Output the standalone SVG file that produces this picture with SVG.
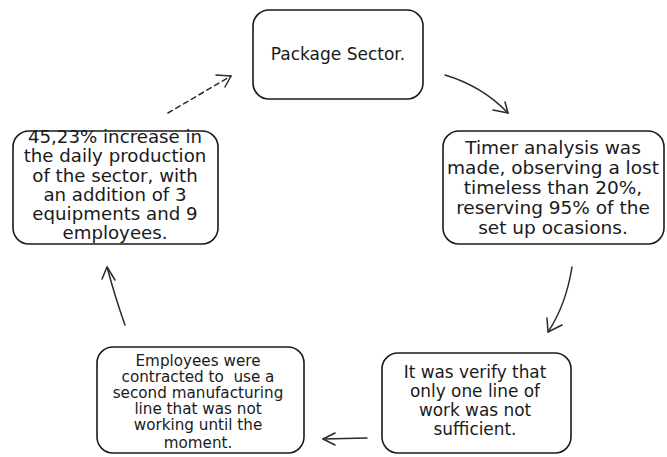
<svg xmlns="http://www.w3.org/2000/svg" width="667" height="457" viewBox="0 0 667 457">
<defs>
<style>
.box{fill:#fff;stroke:#1a1a1a;stroke-width:1.6}
.t{font-family:"DejaVu Sans","Open Sans",sans-serif;fill:#1a1a1a;text-anchor:middle}
.c{fill:none;stroke:#2a2a2a;stroke-width:1.5;stroke-linecap:round;stroke-linejoin:round}
.d{stroke-dasharray:5,4}
</style>
</defs>
<rect width="667" height="457" fill="#fff"/>
<g id="connectors">
<path class="c" d="M445,75 Q482,86 508,113"/>
<path class="c" d="M493,110 L508,113 L505,102"/>
<path class="c" d="M572,267 Q566,305 548,332"/>
<path class="c" d="M547,318 L548,332 L562,325"/>
<path class="c" d="M367,438 L323,439"/>
<path class="c" d="M335,433 L323,439 L335,445"/>
<path class="c" d="M125,325 Q116,300 107,267"/>
<path class="c" d="M102,279 L107,267 L115,280"/>
<path class="c d" d="M168,113 L231,76"/>
<path class="c" d="M216,75 L231,76 L225,87"/>
</g>
<g id="node-package">
<rect class="box" x="253" y="10" width="170" height="89" rx="16"/>
<text class="t" x="338" y="60" font-size="17">Package Sector.</text>
</g>
<g id="node-timer">
<rect class="box" x="443" y="131" width="221" height="113" rx="16"/>
<text class="t" font-size="18.5"><tspan x="553" y="154">Timer analysis was</tspan><tspan x="553" y="174">made, observing a lost</tspan><tspan x="553" y="194">timeless than 20%,</tspan><tspan x="553" y="214">reserving 95% of the</tspan><tspan x="553" y="234">set up ocasions.</tspan></text>
</g>
<g id="node-verify">
<rect class="box" x="382" y="353" width="189" height="100" rx="16"/>
<text class="t" font-size="16.9"><tspan x="475" y="378">It was verify that</tspan><tspan x="475" y="397">only one line of</tspan><tspan x="475" y="416">work was not</tspan><tspan x="475" y="435">sufficient.</tspan></text>
</g>
<g id="node-employees">
<rect class="box" x="97" y="347" width="207" height="106" rx="16"/>
<text class="t" font-size="15.2"><tspan x="198" y="366">Employees were</tspan><tspan x="198" y="382" style="white-space:pre">contracted to  use a</tspan><tspan x="198" y="398">second manufacturing</tspan><tspan x="198" y="414">line that was not</tspan><tspan x="198" y="430">working until the</tspan><tspan x="198" y="448">moment.</tspan></text>
</g>
<g id="node-increase">
<rect class="box" x="13" y="131" width="205" height="113" rx="16"/>
<text class="t" font-size="18.2"><tspan x="115" y="143">45,23% increase in</tspan><tspan x="115" y="162">the daily production</tspan><tspan x="115" y="182">of the sector, with</tspan><tspan x="115" y="201">an addition of 3</tspan><tspan x="115" y="220">equipments and 9</tspan><tspan x="115" y="239">employees.</tspan></text>
</g>
</svg>
